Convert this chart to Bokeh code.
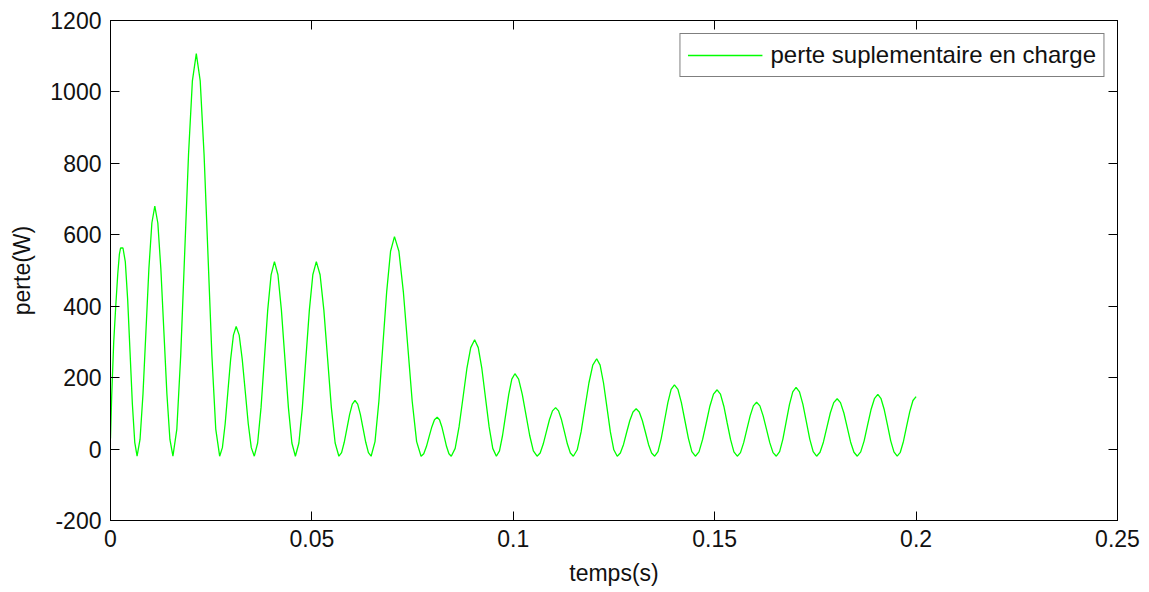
from bokeh.plotting import figure
from bokeh.models import LinearAxis, FixedTicker, Legend, LegendItem, Range1d, ColumnDataSource
from bokeh.embed import file_html
from bokeh.resources import INLINE

# ---- data ----
temps = [
    0.0, 0.0003, 0.0008, 0.0013, 0.0018, 0.0022, 0.0025, 0.0031,
    0.00368, 0.00427, 0.00485, 0.00543, 0.00602, 0.0066,
    0.00733, 0.00807, 0.0088, 0.00953, 0.01027, 0.0110,
    0.01175, 0.0125, 0.01325, 0.014, 0.01475, 0.0155,
    0.01647, 0.01743, 0.0184, 0.01937, 0.02033, 0.0213,
    0.02227, 0.02323, 0.0242, 0.02517, 0.02613, 0.0271,
    0.02778, 0.02847, 0.02915, 0.02983, 0.03052, 0.0312,
    0.03195, 0.0327, 0.03345, 0.0342, 0.03495, 0.0357,
    0.03653, 0.03737, 0.0382, 0.03903, 0.03987, 0.0407,
    0.04157, 0.04243, 0.0433, 0.04417, 0.04503, 0.0459,
    0.04677, 0.04763, 0.0485, 0.04937, 0.05023, 0.0511,
    0.05203, 0.05297, 0.0539, 0.05483, 0.05577, 0.0567,
    0.05737, 0.05803, 0.0587, 0.05937, 0.06003, 0.0607,
    0.06137, 0.06203, 0.0627, 0.06337, 0.06403, 0.0647,
    0.06567, 0.06663, 0.0676, 0.06857, 0.06953, 0.0705,
    0.0716, 0.0727, 0.0738, 0.0749, 0.0760, 0.0771,
    0.07777, 0.07843, 0.0791, 0.07977, 0.08043, 0.0811,
    0.08168, 0.08227, 0.08285, 0.08343, 0.08402, 0.0846,
    0.08557, 0.08653, 0.0875, 0.08847, 0.08943, 0.0904,
    0.0913, 0.0922, 0.0931, 0.0940, 0.0949, 0.0958,
    0.09657, 0.09733, 0.0981, 0.09887, 0.09963, 0.1004,
    0.10132, 0.10223, 0.10315, 0.10407, 0.10498, 0.1059,
    0.10667, 0.10743, 0.1082, 0.10897, 0.10973, 0.1105,
    0.11123, 0.11197, 0.1127, 0.11343, 0.11417, 0.1149,
    0.11587, 0.11683, 0.1178, 0.11877, 0.11973, 0.1207,
    0.12155, 0.1224, 0.12325, 0.1241, 0.12495, 0.1258,
    0.12658, 0.12737, 0.12815, 0.12893, 0.12972, 0.1305,
    0.13127, 0.13203, 0.1328, 0.13357, 0.13433, 0.1351,
    0.13592, 0.13673, 0.13755, 0.13837, 0.13918, 0.1400,
    0.14087, 0.14173, 0.1426, 0.14347, 0.14433, 0.1452,
    0.1461, 0.1470, 0.1479, 0.1488, 0.1497, 0.1506,
    0.15143, 0.15227, 0.1531, 0.15393, 0.15477, 0.1556,
    0.1564, 0.1572, 0.1580, 0.1588, 0.1596, 0.1604,
    0.16122, 0.16203, 0.16285, 0.16367, 0.16448, 0.1653,
    0.16612, 0.16693, 0.16775, 0.16857, 0.16938, 0.1702,
    0.17105, 0.1719, 0.17275, 0.1736, 0.17445, 0.1753,
    0.17615, 0.1770, 0.17785, 0.1787, 0.17955, 0.1804,
    0.18123, 0.18207, 0.1829, 0.18373, 0.18457, 0.1854,
    0.18625, 0.1871, 0.18795, 0.1888, 0.18965, 0.1905,
    0.1913, 0.1921, 0.1929, 0.1937, 0.1945, 0.1953,
    0.19608, 0.19687, 0.19765, 0.19843, 0.19922, 0.2000,
]

perte = [
    30, 150, 300, 400, 490, 545, 563, 563,
    524, 417, 272, 126, 19, -20,
    27, 155, 330, 505, 633, 680,
    633, 505, 330, 155, 27, -20,
    56, 262, 544, 825, 1031, 1107,
    1031, 825, 544, 262, 56, -20,
    4, 71, 162, 252, 319, 343,
    319, 252, 162, 71, 4, -20,
    17, 116, 253, 389, 488, 525,
    488, 389, 253, 116, 17, -20,
    17, 116, 253, 389, 488, 525,
    488, 389, 253, 116, 17, -20,
    -10, 19, 58, 97, 126, 136,
    126, 97, 58, 19, -10, -20,
    21, 134, 288, 441, 554, 595,
    554, 441, 288, 134, 21, -20,
    -13, 7, 35, 62, 82, 89,
    82, 62, 35, 7, -13, -20,
    2, 62, 143, 225, 284, 306,
    284, 225, 143, 62, 2, -20,
    -5, 38, 96, 153, 196, 211,
    196, 153, 96, 38, -5, -20,
    -11, 14, 48, 82, 107, 116,
    107, 82, 48, 14, -11, -20,
    -2, 48, 117, 185, 235, 253,
    235, 185, 117, 48, -2, -20,
    -11, 13, 47, 80, 104, 113,
    104, 80, 47, 13, -11, -20,
    -7, 30, 80, 130, 167, 180,
    167, 130, 80, 30, -7, -20,
    -8, 27, 73, 120, 154, 166,
    154, 120, 73, 27, -8, -20,
    -10, 18, 56, 93, 121, 131,
    121, 93, 56, 18, -10, -20,
    -7, 28, 77, 125, 160, 173,
    160, 125, 77, 28, -7, -20,
    -9, 20, 61, 101, 130, 141,
    130, 101, 61, 20, -9, -20,
    -8, 23, 67, 110, 141, 153,
    141, 110, 67, 23, -8, -20,
    -9, 22, 64, 105, 136, 147,
]

x_ticks = [0, 0.05, 0.1, 0.15, 0.2, 0.25]
x_tick_labels = ["0", "0.05", "0.1", "0.15", "0.2", "0.25"]
y_ticks = [-200, 0, 200, 400, 600, 800, 1000, 1200]
y_tick_labels = ["-200", "0", "200", "400", "600", "800", "1000", "1200"]

series_label = "perte suplementaire en charge"
x_label = "temps(s)"
y_label = "perte(W)"

n = min(len(temps), len(perte))
source = ColumnDataSource(data=dict(t=temps[:n], v=perte[:n]))

FONT = "Liberation Sans"
FS = "23px"

p = figure(width=1149, height=592, output_backend="svg", toolbar_location=None,
           x_range=Range1d(0, 0.25), y_range=Range1d(-200, 1200),
           min_border_left=110, min_border_right=32, min_border_top=20, min_border_bottom=72,
           background_fill_color="white", border_fill_color="white")
p.grid.visible = False
p.outline_line_color = "black"
p.outline_line_width = 1

r = p.line("t", "v", source=source, line_color="#00FF00", line_width=1.3)

xover = {tk: lb for tk, lb in zip(x_ticks, x_tick_labels)}
yover = {tk: lb for tk, lb in zip(y_ticks, y_tick_labels)}

bottom_ax = p.xaxis[0]
left_ax = p.yaxis[0]

def style(ax, ticks, over, show_labels=True):
    ax.ticker = FixedTicker(ticks=ticks)
    ax.major_label_overrides = over
    ax.major_tick_in = 9
    ax.major_tick_out = 0
    ax.minor_tick_in = 0
    ax.minor_tick_out = 0
    ax.axis_line_color = "black"
    ax.major_tick_line_color = "black"
    ax.major_label_text_font = FONT
    ax.major_label_text_color = "#111111"
    if show_labels:
        ax.major_label_text_font_size = FS
        ax.major_label_standoff = 9
    else:
        ax.major_label_text_font_size = "0px"
        ax.major_label_text_alpha = 0
        ax.major_label_standoff = 0

style(bottom_ax, x_ticks, xover)
style(left_ax, y_ticks, yover)

top_ax = LinearAxis()
style(top_ax, x_ticks, xover, show_labels=False)
right_ax = LinearAxis()
style(right_ax, y_ticks, yover, show_labels=False)
p.add_layout(top_ax, "above")
p.add_layout(right_ax, "right")

bottom_ax.axis_label = x_label
left_ax.axis_label = y_label
for ax in (bottom_ax, left_ax):
    ax.axis_label_text_font = FONT
    ax.axis_label_text_font_size = FS
    ax.axis_label_text_font_style = "normal"
    ax.axis_label_text_color = "#111111"
bottom_ax.axis_label_standoff = 10
left_ax.axis_label_standoff = 12

legend = Legend(items=[LegendItem(label=series_label, renderers=[r])],
                location="top_right", margin=13, padding=7, spacing=0,
                border_line_color="black", border_line_width=1,
                background_fill_color="white", background_fill_alpha=1,
                label_text_font=FONT, label_text_font_size="24px", label_text_color="#111111",
                glyph_width=75, glyph_height=20, label_height=20, label_standoff=8)
p.add_layout(legend)

open("out.html", "w").write(file_html(p, INLINE))
